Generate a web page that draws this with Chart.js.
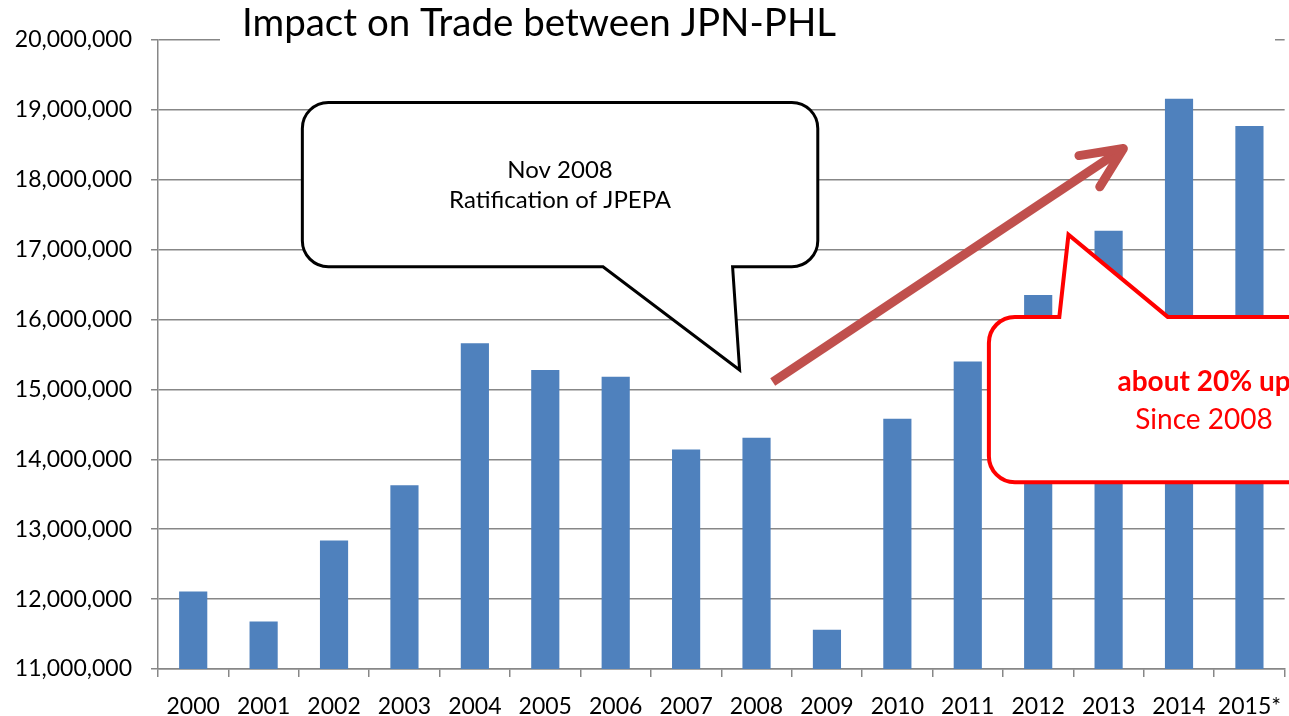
<!DOCTYPE html>
<html>
<head>
<meta charset="utf-8">
<title>Impact on Trade between JPN-PHL</title>
<script src="https://cdn.jsdelivr.net/npm/chart.js@4.4.0/dist/chart.umd.min.js"></script>
<style>
    html, body { margin: 0; padding: 0; background: #fff; overflow: hidden; }
</style>
</head>
<body>
<canvas id="chart1" width="1289" height="716"></canvas>
<script>
// data
var years = ['2000', '2001', '2002', '2003', '2004', '2005', '2006', '2007',
             '2008', '2009', '2010', '2011', '2012', '2013', '2014', '2015*'];
var tradeValues = [12110000, 11680000, 12840000, 13630000, 15660000, 15280000, 15180000, 14140000,
                   14310000, 11560000, 14580000, 15400000, 16350000, 17270000, 19160000, 18770000];
var yTicks = [11000000, 12000000, 13000000, 14000000, 15000000,
              16000000, 17000000, 18000000, 19000000, 20000000];

var titleText = 'Impact on Trade between JPN-PHL';
var noteLines = ['Nov 2008', 'Ratification of JPEPA'];
var upLines = ['about 20% up', 'Since 2008'];

// annotation anchors in chart units (category index, value)
var note = { from: 1.55, to: 8.87, top: 19107000, bottom: 16755000,
             tailFrom: 5.82, tailTo: 7.66, tipAt: 7.76, tipValue: 15278000 };
var upNote = { from: 11.30, to: 17.41, top: 16038000, bottom: 13672000,
               tailFrom: 12.30, tailTo: 13.84, tipAt: 12.43, tipValue: 17214000 };
var arrow = { fromAt: 8.23, fromValue: 15106000, toAt: 13.21, toValue: 18447000 };

var gridColor = '#878787';
var font = 'Lato';

function bubble(ctx, x1, y1, x2, y2, r, tail, onTop) {
    ctx.beginPath();
    ctx.moveTo(x1 + r, y1);
    if (onTop) {
        ctx.lineTo(tail[0], y1);
        ctx.lineTo(tail[2], tail[3]);
        ctx.lineTo(tail[1], y1);
    }
    ctx.lineTo(x2 - r, y1);
    ctx.arcTo(x2, y1, x2, y1 + r, r);
    ctx.lineTo(x2, y2 - r);
    ctx.arcTo(x2, y2, x2 - r, y2, r);
    if (!onTop) {
        ctx.lineTo(tail[1], y2);
        ctx.lineTo(tail[2], tail[3]);
        ctx.lineTo(tail[0], y2);
    }
    ctx.lineTo(x1 + r, y2);
    ctx.arcTo(x1, y2, x1, y2 - r, r);
    ctx.lineTo(x1, y1 + r);
    ctx.arcTo(x1, y1, x1 + r, y1, r);
    ctx.closePath();
}

function drawNote(ctx, xs, ys, n, onTop, stroke, width) {
    var x1 = xs.getPixelForValue(n.from), x2 = xs.getPixelForValue(n.to);
    var y1 = ys.getPixelForValue(n.top), y2 = ys.getPixelForValue(n.bottom);
    var tail = [xs.getPixelForValue(n.tailFrom), xs.getPixelForValue(n.tailTo),
                xs.getPixelForValue(n.tipAt), ys.getPixelForValue(n.tipValue)];
    bubble(ctx, x1, y1, x2, y2, 26, tail, onTop);
    ctx.fillStyle = '#fff';
    ctx.fill();
    ctx.lineWidth = width;
    ctx.lineJoin = 'miter';
    ctx.strokeStyle = stroke;
    ctx.stroke();
    return { cx: (x1 + x2) / 2, cy: (y1 + y2) / 2 };
}

var overlay = {
    id: 'overlay',
    afterDraw: function(chart) {
        var ctx = chart.ctx;
        var xs = chart.scales.x, ys = chart.scales.y;
        ctx.save();

        // title sits on top of the first gridline
        ctx.fillStyle = '#fff';
        ctx.fillRect(220, 0, 1055, 46);
        ctx.fillStyle = '#000';
        ctx.font = '38.5px ' + font;
        ctx.textAlign = 'left';
        ctx.textBaseline = 'middle';
        ctx.fillText(titleText, 242, 24);

        // JPEPA callout
        var c = drawNote(ctx, xs, ys, note, false, '#000', 3);
        ctx.fillStyle = '#000';
        ctx.font = '24px ' + font;
        ctx.textAlign = 'center';
        ctx.fillText(noteLines[0], c.cx, c.cy - 14);
        ctx.fillText(noteLines[1], c.cx, c.cy + 16);

        // growth callout
        c = drawNote(ctx, xs, ys, upNote, true, '#FF0000', 4);
        ctx.fillStyle = '#FF0000';
        ctx.font = 'bold 28px ' + font;
        ctx.fillText(upLines[0], c.cx, c.cy - 18);
        ctx.font = '28px ' + font;
        ctx.fillText(upLines[1], c.cx, c.cy + 20);

        // trend arrow
        var ax = xs.getPixelForValue(arrow.fromAt), ay = ys.getPixelForValue(arrow.fromValue);
        var bx = xs.getPixelForValue(arrow.toAt), by = ys.getPixelForValue(arrow.toValue);
        var ang = Math.atan2(by - ay, bx - ax);
        ctx.strokeStyle = '#C0504D';
        ctx.lineWidth = 9;
        ctx.lineCap = 'butt';
        ctx.beginPath();
        ctx.moveTo(ax, ay);
        ctx.lineTo(bx - 4 * Math.cos(ang), by - 4 * Math.sin(ang));
        ctx.stroke();
        ctx.lineCap = 'round';
        ctx.lineJoin = 'round';
        ctx.beginPath();
        ctx.moveTo(bx + 45 * Math.cos(ang + Math.PI - 0.43), by + 45 * Math.sin(ang + Math.PI - 0.43));
        ctx.lineTo(bx, by);
        ctx.lineTo(bx + 45 * Math.cos(ang + Math.PI + 0.43), by + 45 * Math.sin(ang + Math.PI + 0.43));
        ctx.stroke();

        ctx.restore();
    }
};

var ctx = document.getElementById('chart1').getContext('2d');
var myChart = new Chart(ctx, {
    type: 'bar',
    data: {
        labels: years,
        datasets: [{
            label: 'Trade',
            data: tradeValues,
            backgroundColor: '#4F81BD',
            borderWidth: 0,
            barPercentage: 0.4,
            categoryPercentage: 1
        }]
    },
    options: {
        responsive: false,
        animation: false,
        layout: {
            padding: { top: 40, right: 0, bottom: 0, left: 0 }
        },
        plugins: {
            legend: { display: false },
            tooltip: { enabled: false }
        },
        scales: {
            x: {
                grid: {
                    drawOnChartArea: false,
                    tickLength: 8,
                    color: gridColor,
                    lineWidth: 1.5,
                    offset: true
                },
                border: { color: gridColor, width: 1.5 },
                ticks: {
                    color: '#000',
                    font: { family: font, size: 23, lineHeight: 1.9 },
                    padding: 8,
                    maxRotation: 0,
                    autoSkip: false
                },
                afterFit: function(s) { s.height = 47; }
            },
            y: {
                min: yTicks[0],
                max: yTicks[yTicks.length - 1],
                ticks: {
                    stepSize: yTicks[1] - yTicks[0],
                    color: '#000',
                    padding: 19,
                    font: { family: font, size: 23 },
                    callback: function(v) { return v.toLocaleString('en-US'); }
                },
                grid: { color: gridColor, lineWidth: 1.5, tickLength: 7 },
                border: { color: gridColor, width: 1.5 },
                afterFit: function(s) { s.width = 158; }
            }
        }
    },
    plugins: [overlay]
});
</script>
</body>
</html>
